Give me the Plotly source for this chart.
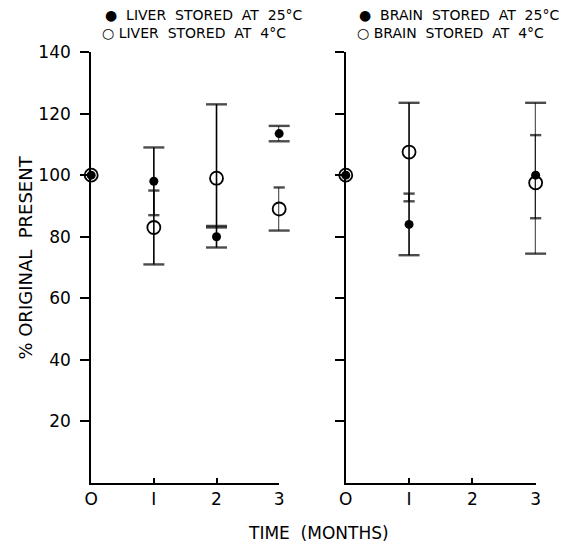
import plotly.graph_objects as go

# ---- data ----
liver_x = [0, 1, 2, 3]
liver25_y = [100, 98, 80, 113.5]
liver25_plus = [0, 11, 3.5, 2.5]
liver25_minus = [0, 11, 3.5, 2.5]
liver4_y = [100, 83, 99, 89]
liver4_plus = [0, 12, 24, 7]
liver4_minus = [0, 12, 16, 7]

brain_x = [0, 1, 3]
brain25_y = [100, 84, 100]
brain25_plus = [0, 10, 13]
brain25_minus = [0, 10, 14]
brain4_y = [100, 107.5, 97.5]
brain4_plus = [0, 16, 26]
brain4_minus = [0, 16, 23]

y_ticks = [20, 40, 60, 80, 100, 120, 140]
x_ticks = [0, 1, 2, 3]
x_ticktext = ["O", "I", "2", "3"]

# ---- styles (cap type per end: True = wide cap, False = small tick) ----
BIG, SMALL = 15, 8
liver25_caps = ([True, True, True, True], [True, False, True, True])
liver4_caps = ([True, False, True, False], [True, True, True, True])
brain25_caps = ([True, False, False], [True, True, False])
brain4_caps = ([True, True, True], [True, False, True])

FONT = "DejaVu Sans"
fig = go.Figure()


def add_series(xs, ys, plus, minus, caps, xa, ya, filled):
    # vertical error lines
    lx, ly = [], []
    for x, y, p, m in zip(xs, ys, plus, minus):
        if p == 0 and m == 0:
            continue
        lx += [x, x, None]
        ly += [y - m, y + p, None]
    fig.add_trace(go.Scatter(x=lx, y=ly, mode="lines", xaxis=xa, yaxis=ya,
                             line=dict(color="black", width=1.6),
                             hoverinfo="skip", showlegend=False, cliponaxis=False))
    # caps
    cx, cy, cs = [], [], []
    for x, y, p, m, bu, bl in zip(xs, ys, plus, minus, caps[0], caps[1]):
        if p == 0 and m == 0:
            continue
        cx += [x, x]
        cy += [y + p, y - m]
        cs += [BIG if bu else SMALL, BIG if bl else SMALL]
    fig.add_trace(go.Scatter(x=cx, y=cy, mode="markers", xaxis=xa, yaxis=ya,
                             marker=dict(symbol="line-ew-open", size=cs, color="black",
                                         line=dict(color="black", width=2.4)),
                             hoverinfo="skip", showlegend=False, cliponaxis=False))
    # markers
    if filled:
        mk = dict(symbol="circle", size=9, color="black")
    else:
        mk = dict(symbol="circle-open", size=13, color="black",
                  line=dict(color="black", width=1.8))
    fig.add_trace(go.Scatter(x=xs, y=ys, mode="markers", xaxis=xa, yaxis=ya,
                             marker=mk, showlegend=False, cliponaxis=False))


add_series(liver_x, liver25_y, liver25_plus, liver25_minus, liver25_caps, "x", "y", True)
add_series(liver_x, liver4_y, liver4_plus, liver4_minus, liver4_caps, "x", "y", False)
add_series(brain_x, brain25_y, brain25_plus, brain25_minus, brain25_caps, "x2", "y2", True)
add_series(brain_x, brain4_y, brain4_plus, brain4_minus, brain4_caps, "x2", "y2", False)

xax = dict(range=[0, 3], tickvals=x_ticks, ticktext=x_ticktext,
           showline=True, linecolor="black", linewidth=2, ticks="inside",
           ticklen=5, tickwidth=1.5, tickcolor="black", showgrid=False,
           zeroline=False, tickfont=dict(family=FONT, size=17, color="black"),
           fixedrange=True)
yax = dict(range=[0, 140], tickvals=y_ticks, showline=True, linecolor="black",
           linewidth=2, ticks="outside", ticklen=9, tickwidth=1.5,
           tickcolor="black", showgrid=False, zeroline=False,
           tickfont=dict(family=FONT, size=17, color="black"), fixedrange=True)

W, H, T, B = 571, 544, 52, 61
PH = H - T - B


def px(x):
    return x / W


def py(y):
    return (H - B - y) / PH


legend_texts = [
    ("●  LIVER  STORED  AT  25°C", 98, 15),
    ("○ LIVER  STORED  AT  4°C", 95, 33),
    ("●  BRAIN  STORED  AT  25°C", 358, 15),
    ("○ BRAIN  STORED  AT  4°C", 355, 33),
]

anns = []
for txt, x, y in legend_texts:
    anns.append(dict(text=txt, x=px(x), y=py(y), xref="paper", yref="paper",
                     xanchor="left", yanchor="middle", showarrow=False,
                     font=dict(family=FONT, size=14, color="black")))
anns.append(dict(text="% ORIGINAL  PRESENT", textangle=-90, x=px(18), y=py(258),
                 xref="paper", yref="paper", xanchor="center", yanchor="middle",
                 showarrow=False, font=dict(family=FONT, size=18, color="black")))
anns.append(dict(text="TIME  (MONTHS)", x=px(318), y=py(533),
                 xref="paper", yref="paper", xanchor="center", yanchor="middle",
                 showarrow=False, font=dict(family=FONT, size=17, color="black")))

fig.update_layout(
    width=W, height=H,
    margin=dict(l=0, r=0, t=T, b=B),
    paper_bgcolor="white", plot_bgcolor="white",
    xaxis=dict(xax, domain=[0.1506, 0.4869], anchor="y"),
    xaxis2=dict(xax, domain=[0.606, 0.9457], anchor="y2"),
    yaxis=dict(yax, anchor="x", ticklabelstandoff=6),
    yaxis2=dict(yax, anchor="x2", showticklabels=False),
    showlegend=False,
    annotations=anns,
)

fig.write_html("out.html")
